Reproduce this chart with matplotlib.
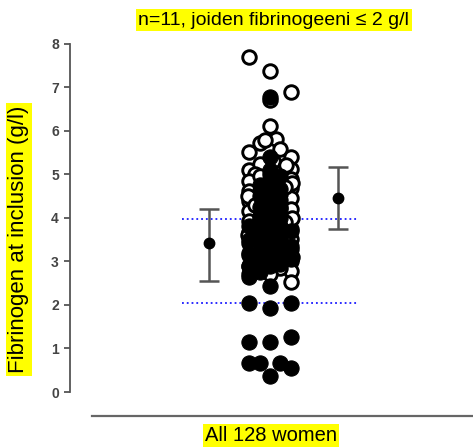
import matplotlib
matplotlib.use("Agg")
import matplotlib.pyplot as plt
import numpy as np

plt.rcParams['font.family'] = ['Liberation Sans', 'DejaVu Sans']

# fibrinogen values (g/l) and column offsets in the swarm
filled_y = [0.37, 0.56, 0.66, 0.66, 0.67, 1.15, 1.15, 1.27, 2.05, 1.94, 2.05,
            2.43, 2.9, 3.1, 3.3, 3.5, 3.7, 3.9, 4.1, 4.3, 4.5, 4.7, 4.9, 5.1, 5.4, 6.77,
            2.75, 3.0, 3.2, 3.45, 3.65, 3.85, 4.05, 4.25, 4.5, 4.75,
            2.95, 3.15, 3.35, 3.6, 3.8, 4.0, 4.2, 4.4, 4.65, 4.95,
            2.64, 2.9, 3.2, 3.5, 3.8,
            3.05, 3.35, 3.7]
filled_col = [0, 2, -2, -1, 1, -2, 0, 2, -2, 0, 2,
              0, 0, 0, 0, 0, 0, 0, 0, 0, 0, 0, 0, 0, 0, 0,
              -1, -1, -1, -1, -1, -1, -1, -1, -1, -1,
              1, 1, 1, 1, 1, 1, 1, 1, 1, 1,
              -2, -2, -2, -2, -2,
              2, 2, 2]

open_y = [7.68, 7.37, 6.89, 6.70, 6.10, 5.72, 5.80, 5.78, 5.51, 5.59, 5.40, 5.11,
          5.09, 5.24, 5.30, 5.02, 5.00, 5.20,
          4.85, 4.62, 4.38, 4.15, 3.92, 3.68, 3.42, 3.15, 2.90, 2.70,
          4.90, 4.68, 4.45, 4.20, 3.98, 3.75, 3.52, 3.28, 3.00, 2.78, 2.53,
          4.95, 4.62, 4.30, 4.00, 3.75, 3.50, 3.25, 2.95,
          4.85, 4.55, 4.25, 3.95, 3.70, 3.45, 3.15, 2.84,
          5.00, 4.60, 4.20, 3.80, 3.40, 3.00, 2.70,
          4.50, 4.00, 3.60, 3.10, 4.80, 4.30, 3.90, 3.30, 4.70, 4.10, 3.55, 4.45, 3.85]
open_col = [-2, 0, 2, 0, 0, -1, 0.6, -0.5, -2, 1, 2, 2,
            -2, -1, 0.3, 1, -1.5, 1.6,
            -2, -2, -2, -2, -2, -2, -2, -2, -2, -2,
            2, 2, 2, 2, 2, 2, 2, 2, 2, 2, 2,
            -1, -1, -1, -1, -1, -1, -1, -1,
            1, 1, 1, 1, 1, 1, 1, 1,
            0, 0, 0, 0, 0, 0, 0,
            -2.1, 2.1, -2.1, 2.1, 2.1, -1.5, 1.5, -1.5, 1.5, -0.5, 0.5, 0.5, -0.5]

# group means with error bars (left and right of the swarm)
mean_x = [0.695, 1.34]
mean_y = [3.42, 4.45]
err_low = [2.55, 3.74]
err_high = [4.20, 5.16]

ref_lines = [3.97, 2.05]

center = 1.0
step = 0.0515

fig = plt.figure(figsize=(4.73, 4.48), dpi=100)
ax = fig.add_axes([0.148, 0.0714, 0.852, 0.8315])
ax.set_xlim(0, 2.015)
ax.set_ylim(-0.55, 8.0)

for y in ref_lines:
    ax.plot([0.56, 1.435], [y, y], color='#1a1aff', linestyle=':', linewidth=1.3, zorder=1)

ax.scatter(center + np.array(open_col) * step, open_y, s=95, facecolor='white',
           edgecolor='black', linewidth=2.1, zorder=2, clip_on=False)
ax.scatter(center + np.array(filled_col) * step, filled_y, s=120, facecolor='black',
           edgecolor='black', linewidth=0.8, zorder=3)

yerr = [np.array(mean_y) - np.array(err_low), np.array(err_high) - np.array(mean_y)]
ax.errorbar(mean_x, mean_y, yerr=yerr, fmt='o', color='black', ecolor='#555555',
            elinewidth=1.8, capsize=7, capthick=1.8, markersize=7.5, zorder=4)

for s in ['top', 'right']:
    ax.spines[s].set_visible(False)
ax.spines['left'].set_bounds(0, 8)
ax.spines['left'].set_color('#555555')
ax.spines['left'].set_linewidth(1.3)
ax.spines['bottom'].set_bounds(0.11, 2.015)
ax.spines['bottom'].set_color('#666666')
ax.spines['bottom'].set_linewidth(1.6)

ax.set_yticks(range(0, 9))
ax.tick_params(axis='y', length=4, width=1.3, color='#555555', labelsize=10,
               labelcolor='#444444', pad=4)
for lab in ax.get_yticklabels():
    lab.set_fontweight('bold')
ax.set_xticks([])

hl = dict(boxstyle='square,pad=0.12', facecolor='#ffff00', edgecolor='none')
fig.text(0.579, 0.955, 'n=11, joiden fibrinogeeni \u2264 2 g/l', ha='center', va='center',
         fontsize=14, bbox=hl)
fig.text(0.573, 0.028, 'All 128 women', ha='center', va='center', fontsize=14.5, bbox=hl)
fig.text(0.040, 0.465, 'Fibrinogen at inclusion (g/l)', ha='center', va='center',
         rotation=90, fontsize=16, bbox=hl)

fig.savefig('out.png', dpi=100)
